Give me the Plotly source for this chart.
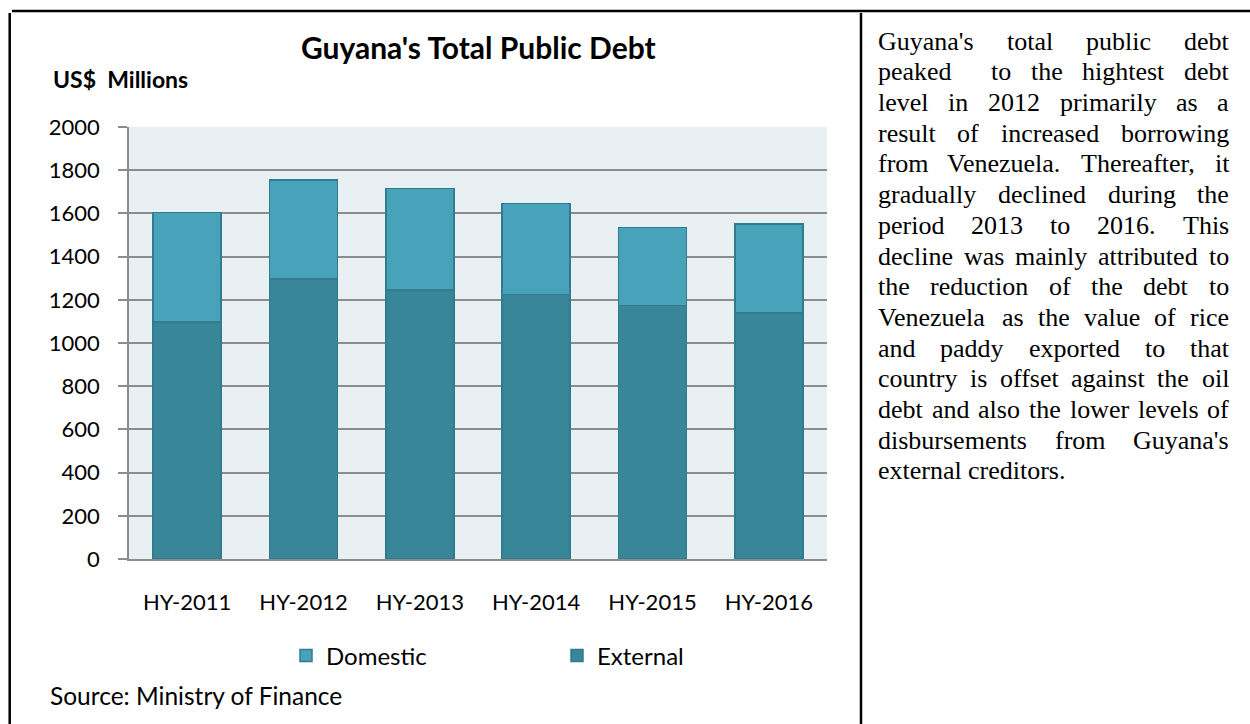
import plotly.graph_objects as go

# ---------------- data ----------------
periods = ["HY-2011", "HY-2012", "HY-2013", "HY-2014", "HY-2015", "HY-2016"]
external = [1097, 1296, 1245, 1224, 1173, 1140]
domestic = [508, 459, 470, 423, 362, 410]

title_text = "Guyana's Total Public Debt"
unit_text = "US$&nbsp; Millions"
source_text = "Source: Ministry of Finance"
y_ticks = [0, 200, 400, 600, 800, 1000, 1200, 1400, 1600, 1800, 2000]

commentary_lines = [
    "Guyana's total public debt",
    "peaked  to the hightest debt",
    "level in 2012 primarily as a",
    "result of increased borrowing",
    "from Venezuela. Thereafter, it",
    "gradually declined during the",
    "period 2013 to 2016. This",
    "decline was mainly attributed to",
    "the reduction of the debt to",
    "Venezuela as the value of rice",
    "and paddy exported to that",
    "country is offset against the oil",
    "debt and also the lower levels of",
    "disbursements from Guyana's",
    "external creditors.",
]

# ---------------- layout geometry (pixels) ----------------
W, H = 1250, 724
PL, PR, PT, PB = 129, 827, 127, 559  # plot area in pixels


def px(x):
    return (x - PL) / (PR - PL)


def py(y):
    return (PB - y) / (PB - PT)


SANS = "Lato, 'Open Sans', sans-serif"
SERIF = "'Liberation Serif', 'Times New Roman', serif"

fig = go.Figure()
fig.add_trace(go.Bar(
    x=periods, y=external, name="External", width=0.585,
    marker=dict(color="#3A8699", line=dict(color="#2F7B90", width=1.5)),
))
fig.add_trace(go.Bar(
    x=periods, y=domestic, name="Domestic", width=0.585,
    marker=dict(color="#48A2BA", line=dict(color="#2F7B90", width=1.5)),
))

fig.update_layout(
    width=W, height=H,
    margin=dict(l=PL, r=W - PR, t=PT, b=H - PB, autoexpand=False),
    paper_bgcolor="white",
    plot_bgcolor="#E8F0F4",
    barmode="stack",
    showlegend=True,
    legend=dict(
        orientation="h", traceorder="reversed",
        x=px(286), xanchor="left", y=py(656), yanchor="middle",
        entrywidth=226, entrywidthmode="pixels",
        font=dict(family=SANS, size=24, color="black"),
        bgcolor="rgba(0,0,0,0)",
    ),
    font=dict(family=SANS, color="black"),
)

fig.update_yaxes(
    range=[0, 2000], tickvals=y_ticks,
    showgrid=True, gridcolor="#8C8C8C", gridwidth=1.5,
    showline=True, linecolor="#8C8C8C", linewidth=1.5,
    ticks="outside", ticklen=9, tickwidth=1.5, tickcolor="#8C8C8C",
    tickfont=dict(family=SANS, size=22, color="black"),
    ticklabelstandoff=14, zeroline=False,
)
fig.update_xaxes(
    showline=True, linecolor="#8C8C8C", linewidth=1.5,
    ticks="", tickfont=dict(family=SANS, size=22, color="black"),
    ticklabelstandoff=23, showgrid=False,
)

annotations = []
annotations.append(dict(
    text="<b>%s</b>" % title_text, x=px(478), y=py(47), xref="paper", yref="paper",
    xanchor="center", yanchor="middle", showarrow=False,
    font=dict(family=SANS, size=30, color="black"),
))
annotations.append(dict(
    text="<b>%s</b>" % unit_text, x=px(51), y=py(79), xref="paper", yref="paper",
    xanchor="left", yanchor="middle", showarrow=False,
    font=dict(family=SANS, size=23, color="black"),
))
annotations.append(dict(
    text=source_text, x=px(48), y=py(695), xref="paper", yref="paper",
    xanchor="left", yanchor="middle", showarrow=False,
    font=dict(family=SANS, size=24.5, color="black"),
))

# ---- justified commentary text (Times metrics, per 1000 em) ----
TW = {
    'a': 444, 'b': 500, 'c': 444, 'd': 500, 'e': 444, 'f': 333, 'g': 500, 'h': 500,
    'i': 278, 'j': 278, 'k': 500, 'l': 278, 'm': 778, 'n': 500, 'o': 500, 'p': 500,
    'q': 500, 'r': 333, 's': 389, 't': 278, 'u': 500, 'v': 500, 'w': 722, 'x': 500,
    'y': 500, 'z': 444, 'G': 722, 'T': 611, 'V': 722, '.': 250, ',': 250, "'": 180,
}
for dch in "0123456789":
    TW[dch] = 500
FS = 26
LEFT, RIGHT = 877, 1228
BASE0, LSTEP = 50, 30.7


def wwidth(w):
    return sum(TW.get(c, 500) for c in w) * FS / 1000.0


for k, line in enumerate(commentary_lines):
    tokens = line.split(" ")
    widths = [wwidth(t) for t in tokens]
    nsp = len(tokens) - 1
    if k == len(commentary_lines) - 1 or nsp == 0:
        gap = 250 * FS / 1000.0
    else:
        gap = (RIGHT - LEFT - sum(widths)) / nsp
    xcur = LEFT
    ycen = BASE0 + k * LSTEP - 0.34 * FS
    for t, wd in zip(tokens, widths):
        if t:
            annotations.append(dict(
                text=t, x=px(xcur), y=py(ycen), xref="paper", yref="paper",
                xanchor="left", yanchor="middle", showarrow=False, borderpad=0,
                font=dict(family=SERIF, size=FS, color="black"),
            ))
        xcur += wd + gap

fig.update_layout(annotations=annotations)

# ---- frame lines ----
shapes = [
    dict(type="line", xref="paper", yref="paper", x0=px(12), x1=px(1250), y0=py(11), y1=py(11),
         line=dict(color="black", width=2.5)),
    dict(type="line", xref="paper", yref="paper", x0=px(9.7), x1=px(9.7), y0=py(13), y1=py(724),
         line=dict(color="black", width=2.5)),
    dict(type="line", xref="paper", yref="paper", x0=px(861), x1=px(861), y0=py(13), y1=py(724),
         line=dict(color="black", width=2.5)),
]
fig.update_layout(shapes=shapes)

fig.write_html("out.html")
